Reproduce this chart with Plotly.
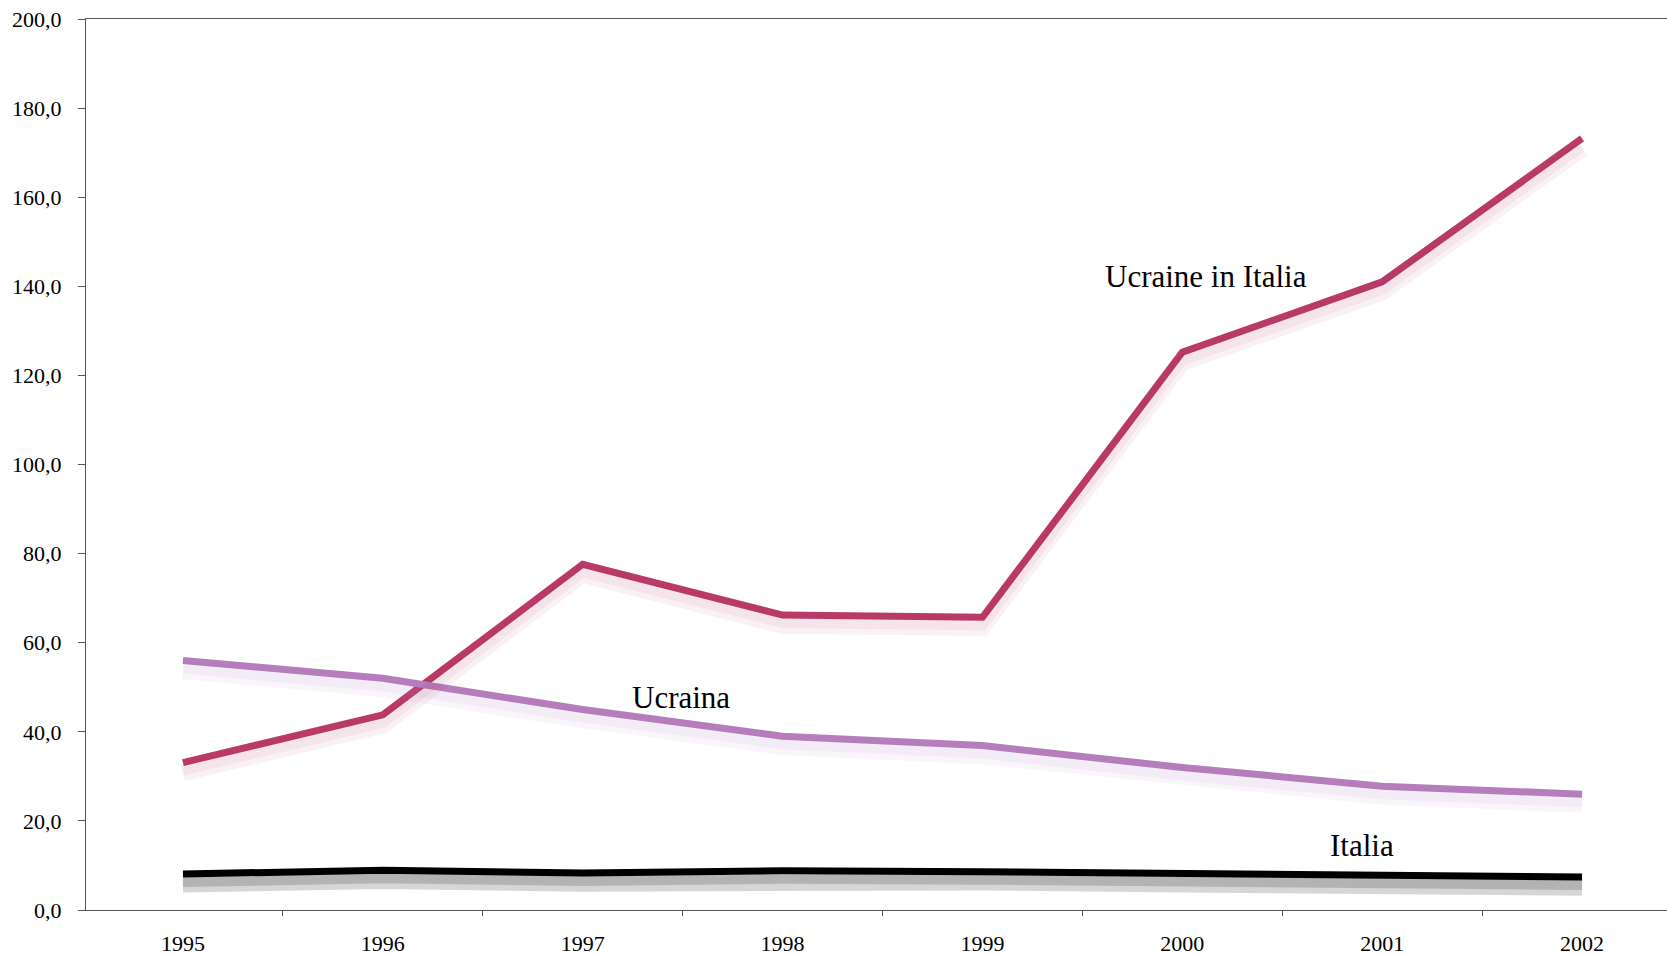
import plotly.graph_objects as go

years = ["1995", "1996", "1997", "1998", "1999", "2000", "2001", "2002"]
ucraine_in_italia = [33.1, 43.8, 77.6, 66.2, 65.7, 125.2, 141.0, 173.2]
ucraina = [56.0, 52.0, 45.0, 39.0, 36.9, 32.0, 27.8, 26.0]
italia = [8.1, 8.9, 8.3, 8.8, 8.6, 8.1, 7.7, 7.4]

series = [
    ("Ucraine in Italia", ucraine_in_italia, "#B93A68", "rgba(185,58,104,0.07)"),
    ("Ucraina", ucraina, "#B57DBB", "rgba(181,125,187,0.08)"),
    ("Italia", italia, "#000000", "rgba(0,0,0,0.16)"),
]

fig = go.Figure()
# soft drop shadows (drawn on overlaying, slightly shifted axes)
for ax, w in (("y2", 16), ("y3", 10)):
    for name, vals, col, shade in series:
        fig.add_trace(go.Scatter(x=years, y=vals, mode="lines", yaxis=ax,
                                 line=dict(color=shade, width=w), hoverinfo="skip",
                                 showlegend=False))
for name, vals, col, shade in series:
    fig.add_trace(go.Scatter(x=years, y=vals, mode="lines", name=name,
                             line=dict(color=col, width=7), showlegend=False))

serif = "Liberation Serif, Times New Roman, serif"
labels = [("Ucraine in Italia", 5.12, 142.1), ("Ucraina", 2.49, 47.6), ("Italia", 5.9, 14.5)]
for txt, xi, yv in labels:
    fig.add_annotation(x=xi, y=yv, text=txt, showarrow=False, xref="x", yref="y",
                       font=dict(family=serif, size=31, color="#000"))

fig.update_layout(
    width=1667, height=955,
    margin=dict(l=86, r=0, t=19, b=45),
    paper_bgcolor="white", plot_bgcolor="white",
    font=dict(family=serif, size=22, color="#000"),
    xaxis=dict(type="category", range=[-0.485, 7.425], tickson="boundaries",
               ticks="outside", ticklen=5, tickcolor="#555", showgrid=False,
               showline=True, linecolor="#555", linewidth=1.3, mirror=True,
               zeroline=False, ticklabelstandoff=13, automargin=False,
               tickfont=dict(family=serif, size=22)),
    yaxis=dict(range=[0, 200], tickvals=list(range(0, 201, 20)),
               ticktext=[f"{v},0" for v in range(0, 201, 20)],
               ticks="outside", ticklen=7, tickcolor="#555", showgrid=False,
               showline=True, linecolor="#555", linewidth=1.3, zeroline=False,
               ticklabelstandoff=12, automargin=False,
               tickfont=dict(family=serif, size=22)),
    yaxis2=dict(range=[2.4, 202.4], overlaying="y", visible=False),
    yaxis3=dict(range=[1.8, 201.8], overlaying="y", visible=False),
)

fig.write_html("out.html", config={"displayModeBar": False},
               post_script="document.body.style.margin='0';document.body.style.overflow='hidden';")
